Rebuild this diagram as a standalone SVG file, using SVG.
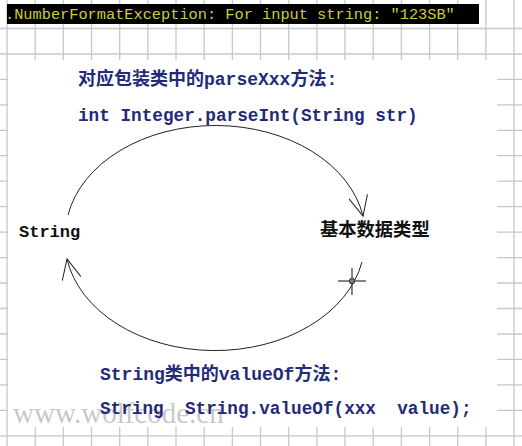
<svg xmlns="http://www.w3.org/2000/svg" width="522" height="446" viewBox="0 0 522 446">
<style>
.grid line{stroke:#c8c8c8;stroke-width:1.3}
.t{font-family:"Liberation Mono","Noto Sans CJK SC",monospace;font-weight:bold;fill:#232a78;white-space:pre}
.n{font-family:"Liberation Mono","Noto Sans CJK SC",monospace;font-weight:bold;fill:#111}
.arc{fill:none;stroke:#222;stroke-width:1}
</style>
<defs>
<marker id="ah" markerUnits="userSpaceOnUse" markerWidth="30" markerHeight="30" viewBox="-25 -15 30 30" refX="0" refY="0" orient="auto">
<path d="M-20,-9.5 L0,0 L-20,9.5" fill="none" stroke="#222" stroke-width="1"/>
</marker>
</defs>
<rect width="522" height="446" fill="#fff"/>
<g class="grid" id="grid">
<line x1="7" y1="0" x2="7" y2="446"/><line x1="35.2" y1="0" x2="35.2" y2="446"/><line x1="63.3" y1="0" x2="63.3" y2="446"/><line x1="91.5" y1="0" x2="91.5" y2="446"/><line x1="119.7" y1="0" x2="119.7" y2="446"/><line x1="147.8" y1="0" x2="147.8" y2="446"/><line x1="176" y1="0" x2="176" y2="446"/><line x1="204.2" y1="0" x2="204.2" y2="446"/><line x1="232.4" y1="0" x2="232.4" y2="446"/><line x1="260.5" y1="0" x2="260.5" y2="446"/><line x1="288.7" y1="0" x2="288.7" y2="446"/><line x1="316.9" y1="0" x2="316.9" y2="446"/><line x1="345" y1="0" x2="345" y2="446"/><line x1="373.2" y1="0" x2="373.2" y2="446"/><line x1="401.4" y1="0" x2="401.4" y2="446"/><line x1="429.6" y1="0" x2="429.6" y2="446"/><line x1="457.7" y1="0" x2="457.7" y2="446"/><line x1="485.9" y1="0" x2="485.9" y2="446"/><line x1="514" y1="0" x2="514" y2="446"/>
<line x1="0" y1="28.5" x2="522" y2="28.5"/><line x1="0" y1="54" x2="522" y2="54"/><line x1="0" y1="79.4" x2="522" y2="79.4"/><line x1="0" y1="104.8" x2="522" y2="104.8"/><line x1="0" y1="130.3" x2="522" y2="130.3"/><line x1="0" y1="155.7" x2="522" y2="155.7"/><line x1="0" y1="181.2" x2="522" y2="181.2"/><line x1="0" y1="206.7" x2="522" y2="206.7"/><line x1="0" y1="232.1" x2="522" y2="232.1"/><line x1="0" y1="257.6" x2="522" y2="257.6"/><line x1="0" y1="283" x2="522" y2="283"/><line x1="0" y1="308.5" x2="522" y2="308.5"/><line x1="0" y1="334" x2="522" y2="334"/><line x1="0" y1="359.4" x2="522" y2="359.4"/><line x1="0" y1="384.9" x2="522" y2="384.9"/><line x1="0" y1="410.3" x2="522" y2="410.3"/><line x1="0" y1="435.8" x2="522" y2="435.8"/>
</g>
<rect x="8" y="60" width="489" height="367" fill="#fff"/>
<text x="13" y="423" font-family="'Liberation Serif',serif" font-size="29" fill="#999" fill-opacity="0.55">www.wolfcode.cn</text>
<g id="console">
<rect x="7" y="4" width="472" height="20" fill="#000"/>
<text x="5" y="18.5" font-family="'Liberation Mono',monospace" font-size="15.3" fill="#cdcd3c" xml:space="preserve">.NumberFormatException: For input string: "123SB"</text>
</g>
<g id="labels">
<text class="t" x="78" y="85" font-size="18">对应包装类中的parseXxx方法:</text>
<text class="t" x="78" y="121" font-size="17.7" xml:space="preserve">int Integer.parseInt(String str)</text>
<text class="t" x="100" y="380" font-size="18">String类中的valueOf方法:</text>
<text class="t" x="100" y="414" font-size="17.7" xml:space="preserve">String  String.valueOf(xxx  value);</text>
</g>
<g id="node-string"><text class="n" x="19" y="237" font-size="17">String</text></g>
<g id="node-basic"><text class="n" x="320" y="236" font-size="18.3">基本数据类型</text></g>
<g id="connectors">
<path class="arc" d="M68,215 A150,110 0 0 1 363,216" marker-end="url(#ah)"/>
<path class="arc" d="M362,262 A150,110 0 0 1 67,259" marker-end="url(#ah)"/>
</g>
<g id="cursor" stroke="#333" stroke-width="1.2">
<line x1="338" y1="281" x2="366" y2="281"/>
<line x1="352" y1="268" x2="352" y2="295"/>
<circle cx="352" cy="281" r="2.5" fill="#888"/>
</g>
</svg>
